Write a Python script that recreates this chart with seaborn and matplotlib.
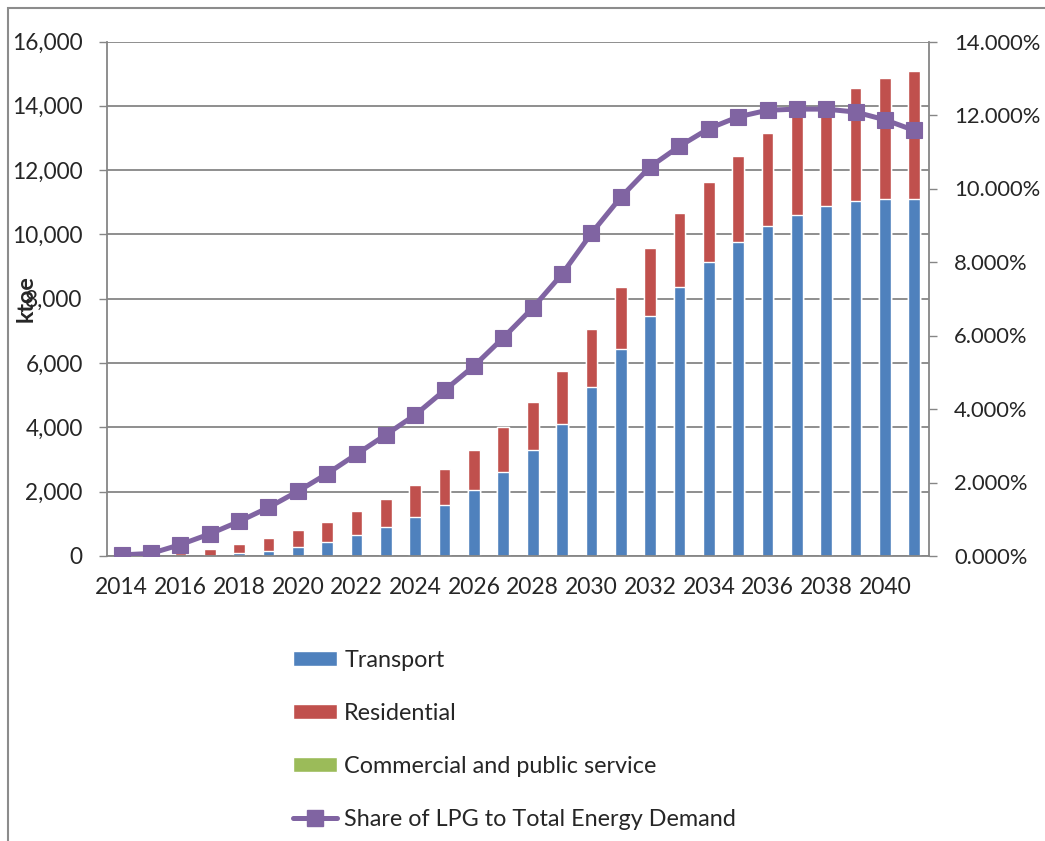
import numpy as np
import matplotlib
matplotlib.use("Agg")
import matplotlib.pyplot as plt
from matplotlib.patches import Patch, Rectangle
from matplotlib.lines import Line2D
from matplotlib.ticker import FuncFormatter, FixedLocator
import seaborn as sns

# LPG demand by sector (ktoe) and LPG share of total energy demand (%)
years = list(range(2014, 2042))
transport = [0, 0, 0, 0, 93, 155, 280, 435, 643, 898, 1203, 1577, 2053, 2603, 3287,
             4096, 5256, 6428, 7464, 8357, 9134, 9756, 10254, 10605, 10876, 11041,
             11103, 11093]
residential = [0, 0, 80, 218, 280, 405, 520, 632, 747, 870, 996, 1119, 1244, 1400,
               1512, 1658, 1794, 1948, 2120, 2320, 2497, 2694, 2892, 3095, 3274,
               3523, 3772, 3981]
commercial = [0] * len(years)
lpg_share = [0.03, 0.07, 0.31, 0.60, 0.94, 1.32, 1.76, 2.24, 2.77, 3.30, 3.84, 4.51,
             5.17, 5.94, 6.75, 7.67, 8.78, 9.76, 10.59, 11.15, 11.63, 11.95, 12.13,
             12.16, 12.16, 12.08, 11.87, 11.58]

series_names = ["Transport", "Residential", "Commercial and public service",
                "Share of LPG to Total Energy Demand"]
colors = ["#4F81BD", "#C0504D", "#9BBB59", "#8064A2"]
grid_gray = "#868686"

sns.set_style("white")
plt.rcParams["font.family"] = ["Lato", "DejaVu Sans"]
plt.rcParams["font.size"] = 16.8

W, H = 1045, 841
fig = plt.figure(figsize=(W / 100, H / 100), dpi=100)
ax = fig.add_axes([107 / W, 1 - 556 / H, (929 - 107) / W, (556 - 41.5) / H])

labels = [str(y) for y in years]
t = np.array(transport, float)
r = np.array(residential, float)
c = np.array(commercial, float)

# stacked columns drawn as cumulative layers, tallest first
for heights, col in [(t + r + c, colors[2]), (t + r, colors[1]), (t, colors[0])]:
    sns.barplot(x=labels, y=heights, color=col, saturation=1, width=0.4,
                errorbar=None, ax=ax, order=labels, zorder=2)

ax.set_ylim(0, 16000)
ax.set_yticks(np.arange(0, 16001, 2000))
ax.yaxis.set_major_formatter(FuncFormatter(lambda v, p: f"{int(v):,}"))
ax.yaxis.grid(True, color=grid_gray, linewidth=1.3)
ax.set_axisbelow(True)
ax.set_ylabel("ktoe", fontweight="bold")
ax.yaxis.set_label_coords(-0.086, 0.5)
ax.set_xlabel("")

# share line on the secondary axis
ax2 = ax.twinx()
idx = np.arange(len(years))
sns.lineplot(x=idx, y=lpg_share, ax=ax2, color=colors[3], linewidth=3.6,
             marker="s", markersize=11.5, markeredgecolor=colors[3],
             markeredgewidth=0.8, zorder=5)
ax2.set_ylim(0, 14)
ax2.set_yticks(np.arange(0, 14.1, 2))
ax2.yaxis.set_major_formatter(FuncFormatter(lambda v, p: f"{v:.3f}%"))
ax2.set_ylabel("")
ax2.set_xlabel("")

for a in (ax, ax2):
    a.set_xlim(-0.5, len(years) - 0.5)
    for s in a.spines.values():
        s.set_visible(False)

ax.spines["left"].set_visible(True)
ax.spines["bottom"].set_visible(True)
ax2.spines["right"].set_visible(True)
for s in (ax.spines["left"], ax.spines["bottom"], ax2.spines["right"]):
    s.set_color(grid_gray)
    s.set_linewidth(1.3)

# year labels every other category, tick marks at category boundaries
ax.xaxis.set_major_locator(FixedLocator(idx[::2]))
ax.set_xticklabels([labels[i] for i in idx[::2]])
ax.xaxis.set_minor_locator(FixedLocator(np.arange(-0.5, len(years), 1)))
ax.tick_params(axis="x", which="major", length=0, pad=15, labelsize=16.5)
ax.tick_params(axis="x", which="minor", length=5.5, width=1, color=grid_gray,
               direction="out")
ax.tick_params(axis="y", length=5.5, width=1, color=grid_gray, direction="out",
               pad=12, left=True, labelsize=16.3)
ax2.tick_params(axis="y", length=5.5, width=1, color=grid_gray, direction="out",
                pad=12.5, right=True, labelsize=15.8)
for lab in ax.get_xticklabels():
    lab.set_horizontalalignment("center")

# legend stacked below the plot
handles = [Patch(facecolor=colors[0]), Patch(facecolor=colors[1]),
           Patch(facecolor=colors[2]),
           Line2D([0], [0], color=colors[3], linewidth=3.6, marker="s",
                  markersize=11.5, markeredgecolor=colors[3])]
fig.legend(handles, series_names, loc="upper left",
           bbox_to_anchor=(293 / W, 1 - 650 / H), frameon=False,
           handlelength=1.9, handleheight=0.6, handletextpad=0.3,
           labelspacing=1.37, borderpad=0, borderaxespad=0)

# chart area border
fig.add_artist(Rectangle((8 / W, -0.1), 1.2, (H - 8) / H + 0.1,
                         transform=fig.transFigure, fill=False,
                         edgecolor="#8c8c8c", linewidth=1.5))

fig.savefig("out.png", dpi=100)
